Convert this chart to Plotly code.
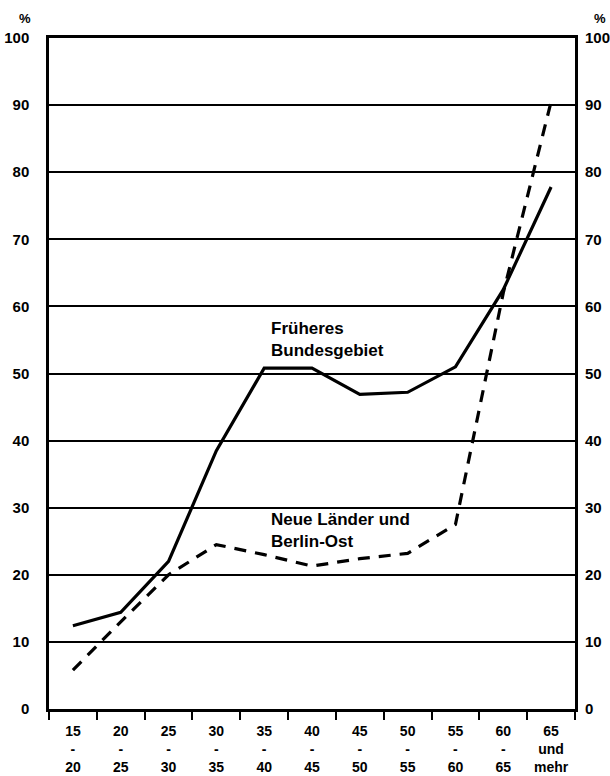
import plotly.graph_objects as go

categories = ["15<br>-<br>20", "20<br>-<br>25", "25<br>-<br>30", "30<br>-<br>35", "35<br>-<br>40",
              "40<br>-<br>45", "45<br>-<br>50", "50<br>-<br>55", "55<br>-<br>60", "60<br>-<br>65",
              "65<br>und<br>mehr"]
frueheres_bundesgebiet = [12.4, 14.4, 22.0, 38.5, 50.8, 50.8, 46.9, 47.2, 51.0, 62.5, 77.8]
neue_laender = [5.8, 13.0, 20.0, 24.5, 23.0, 21.3, 22.4, 23.2, 27.5, 62.0, 90.5]
y_ticks = [0, 10, 20, 30, 40, 50, 60, 70, 80, 90, 100]

FONT = "Liberation Sans"

fig = go.Figure()
fig.add_trace(go.Scatter(x=categories, y=frueheres_bundesgebiet, mode="lines",
                         line=dict(color="black", width=3.2), showlegend=False))
fig.add_trace(go.Scatter(x=categories, y=neue_laender, mode="lines",
                         line=dict(color="black", width=3.2, dash="12px,9px"), showlegend=False))
fig.add_trace(go.Scatter(x=categories, y=[None] * len(categories), yaxis="y2",
                         mode="lines", showlegend=False, hoverinfo="skip"))

fig.update_layout(
    width=610, height=776,
    margin=dict(l=49, r=35, t=38, b=67),
    plot_bgcolor="white", paper_bgcolor="white",
    font=dict(family=FONT, color="black"),
    xaxis=dict(type="category", range=[-0.5, 10.5], tickson="boundaries",
               ticks="outside", ticklen=8, tickwidth=2, tickcolor="black",
               showline=True, linecolor="black", linewidth=2.5, mirror=True,
               showgrid=False, automargin=False, ticklabelstandoff=7,
               tickfont=dict(size=14, weight="bold", family=FONT),
               fixedrange=True),
    yaxis=dict(range=[0, 100], tickvals=y_ticks, ticks="", showline=True,
               linecolor="black", linewidth=2.5, mirror=True,
               showgrid=True, gridcolor="black", gridwidth=2,
               zeroline=False, automargin=False,
               tickfont=dict(size=15, weight="bold", family=FONT),
               ticklabelstandoff=14),
    yaxis2=dict(range=[0, 100], tickvals=y_ticks, overlaying="y", side="right",
                showgrid=False, zeroline=False, ticks="", automargin=False,
                tickfont=dict(size=15, weight="bold", family=FONT),
                ticklabelstandoff=9),
)

fig.add_annotation(x=-0.046, y=1.0, xref="paper", yref="paper", xanchor="center",
                   yanchor="bottom", yshift=10, text="%", showarrow=False,
                   font=dict(size=13, weight="bold", family=FONT))
fig.add_annotation(x=1.048, y=1.0, xref="paper", yref="paper", xanchor="center",
                   yanchor="bottom", yshift=10, text="%", showarrow=False,
                   font=dict(size=13, weight="bold", family=FONT))
fig.add_annotation(x=4.1, y=58.4, xref="x", yref="y", xanchor="left", yanchor="top",
                   align="left", text="Früheres<br>Bundesgebiet", showarrow=False,
                   font=dict(size=17, weight="bold", family=FONT))
fig.add_annotation(x=4.1, y=30.0, xref="x", yref="y", xanchor="left", yanchor="top",
                   align="left", text="Neue Länder und<br>Berlin-Ost", showarrow=False,
                   font=dict(size=17, weight="bold", family=FONT))

fig.write_html("out.html", config={"displayModeBar": False},
               post_script="document.body.style.margin='0';")
